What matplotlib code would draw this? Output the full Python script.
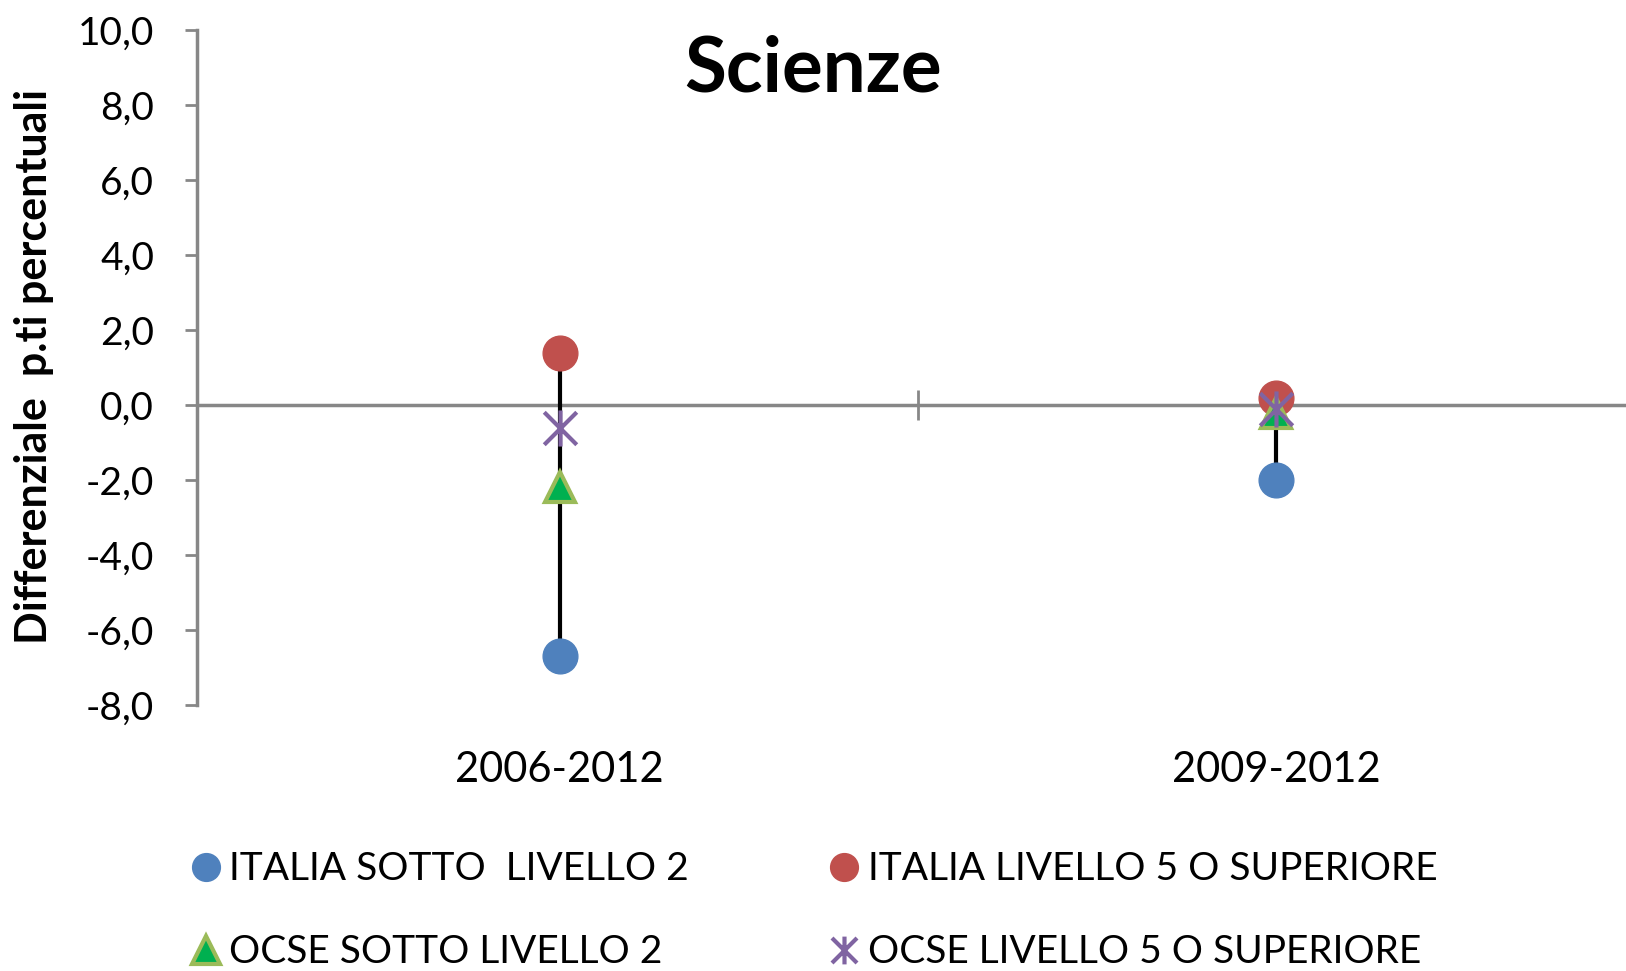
import matplotlib
matplotlib.use("Agg")
import matplotlib.pyplot as plt
from matplotlib.path import Path
from matplotlib.lines import Line2D
import matplotlib.transforms as mtransforms

plt.rcParams["font.family"] = ["Lato", "DejaVu Sans"]

periods = ["2006-2012", "2009-2012"]
italia_sotto = [-6.7, -2.0]
italia_l5 = [1.4, 0.2]
ocse_sotto = [-2.2, -0.2]
ocse_l5 = [-0.6, -0.1]
yticks = [-8, -6, -4, -2, 0, 2, 4, 6, 8, 10]

# excel-like star marker: vertical bar plus an X
star = Path([(0, -1), (0, 1), (-0.9, -0.9), (0.9, 0.9), (-0.9, 0.9), (0.9, -0.9)],
            [Path.MOVETO, Path.LINETO, Path.MOVETO, Path.LINETO, Path.MOVETO, Path.LINETO])

fig = plt.figure(figsize=(16.26, 9.71), dpi=100)
ax = fig.add_axes([0.1212, 0.274, 0.8816, 0.695])

x = list(range(len(periods)))
series = [italia_sotto, italia_l5, ocse_sotto, ocse_l5]
lows = [min(s[i] for s in series) for i in x]
highs = [max(s[i] for s in series) for i in x]
ax.vlines(x, lows, highs, color="black", lw=3, zorder=2)

gray = "#878787"
ax.axhline(0, color=gray, lw=2.5, zorder=1)

ax.plot(x, italia_sotto, "o", ms=25, color="#4F81BD", mec="#4F81BD", zorder=3, ls="none")
ax.plot(x, italia_l5, "o", ms=25, color="#C0504D", mec="#C0504D", zorder=3, ls="none")
ax.plot(x, ocse_sotto, "^", ms=22, color="#00B050", mec="#9BBB59", mew=3, zorder=4, ls="none")
ax.plot(x, ocse_l5, marker=star, ms=26, color="#8064A2", mew=3, fillstyle="none", zorder=5, ls="none")

ax.set_xlim(-0.506, 1.494)
ax.set_ylim(-8, 10)
ax.set_yticks(yticks)
ax.set_yticklabels([f"{v:.1f}".replace(".", ",") for v in yticks], fontsize=28)
ax.tick_params(axis="y", length=9, width=2, color=gray, pad=22)

for s in ["top", "right"]:
    ax.spines[s].set_visible(False)
ax.spines["left"].set_color(gray)
ax.spines["left"].set_linewidth(2.5)
ax.spines["bottom"].set_position(("data", 0))
ax.spines["bottom"].set_visible(False)
ax.set_xticks([0.5])
ax.set_xticklabels([])
ax.tick_params(axis="x", length=22, width=2, color=gray, direction="inout")

trans = mtransforms.blended_transform_factory(ax.transData, ax.transAxes)
for i, p in enumerate(periods):
    ax.text(i, -0.097, p, transform=trans, ha="center", va="center", fontsize=30)

fig.text(0.5, 0.928, "Scienze", ha="center", va="center", fontsize=55, fontweight="bold")
fig.text(0.021, 0.623, "Differenziale  p.ti percentuali", rotation=90, ha="center",
         va="center", fontsize=31, fontweight="bold")

lh1 = Line2D([], [], marker="o", ls="none", ms=20, color="#4F81BD")
lh2 = Line2D([], [], marker="o", ls="none", ms=20, color="#C0504D")
lh3 = Line2D([], [], marker="^", ls="none", ms=20, color="#00B050", mec="#9BBB59", mew=3)
lh4 = Line2D([], [], marker=star, ls="none", ms=20, color="#8064A2", mew=3)
fig.legend([lh1, lh3, lh2, lh4],
           ["ITALIA SOTTO  LIVELLO 2", "OCSE SOTTO LIVELLO 2",
            "ITALIA LIVELLO 5 O SUPERIORE", "OCSE LIVELLO 5 O SUPERIORE"],
           ncol=2, loc="center left", bbox_to_anchor=(0.093, 0.062), frameon=False,
           fontsize=28, handletextpad=0.1, handlelength=1.0, columnspacing=3.5,
           labelspacing=1.2)

fig.savefig("out.png", dpi=100)
